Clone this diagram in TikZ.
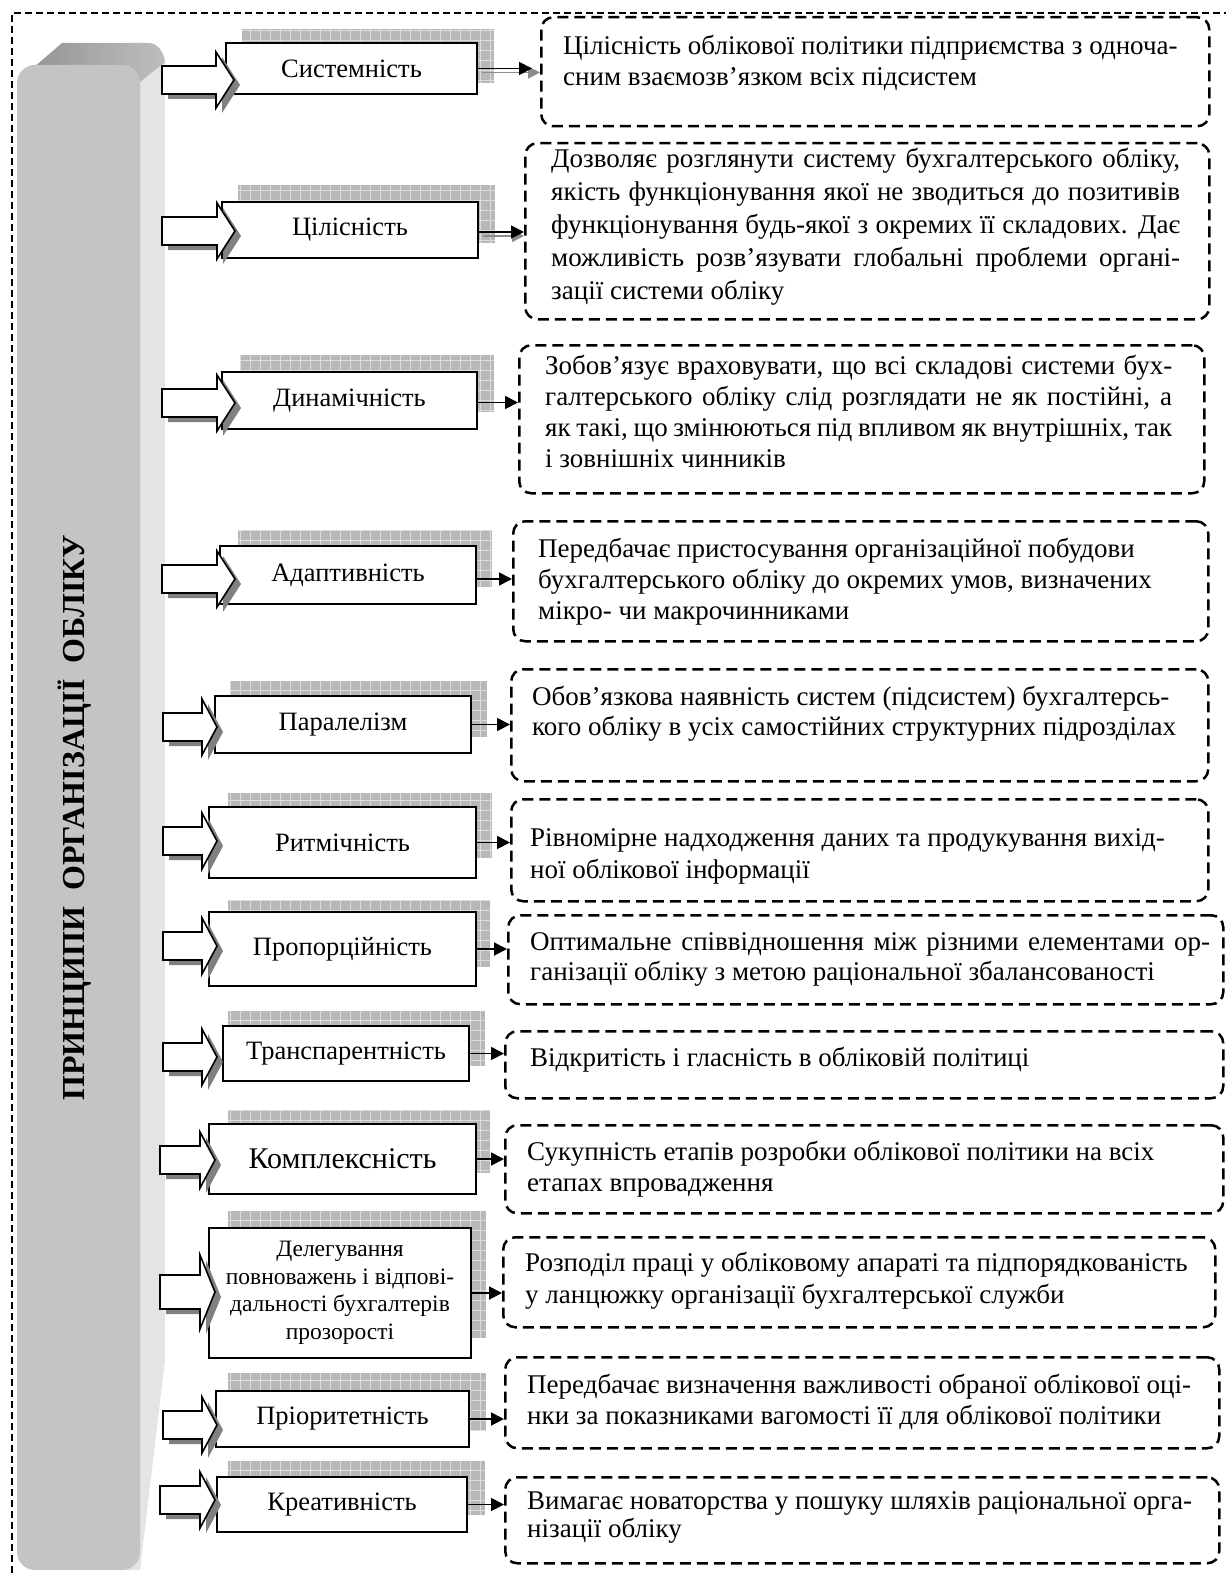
\documentclass[tikz,border=0pt]{standalone}
\usepackage{fontspec}
\setmainfont{Liberation Serif}
\usetikzlibrary{arrows.meta}
\definecolor{frontgray}{RGB}{196,196,196}
\definecolor{sidegray}{RGB}{228,228,228}
\definecolor{topdark}{RGB}{145,145,145}
\definecolor{toplight}{RGB}{190,190,190}
\tikzset{
 pbox/.style={draw=black, line width=1.6pt, fill=white, inner sep=2pt, align=center, font=\fontsize{26.5}{30}\selectfont},
 rbox/.style={draw=black, line width=2.5pt, dash pattern=on 11pt off 6pt, rounded corners=12pt, inner sep=0pt, anchor=north west},
 rtxt/.style={inner sep=0pt, anchor=north west, align=left},
 conn/.style={line width=1.8pt, -{Triangle[length=13pt,width=13pt]}},
 connsh/.style={line width=1.6pt, draw=black!45, -{Triangle[length=12pt,width=12pt,fill=black!45]}},
 blkline/.style={fill=white, draw=black, line width=1.6pt},
 blksh/.style={fill=black!50},
 grd/.style={fill=black!28},
 grdline/.style={draw=black!14, line width=0.8pt},
 outerframe/.style={line width=1.3pt, dash pattern=on 7pt off 4pt},
}
\newcommand\patbox[4]{\begin{scope}\clip (#1,#2) rectangle (#3,#4);
 \fill[grd] (#1,#2) rectangle (#3,#4);
 \draw[grdline, step=10pt] (#1,#2) grid (#3,#4);\end{scope}}
% block arrow: tail x, head base x, tip x, y centre, half body, half head
\newcommand\blkarrow[6]{%
 \fill[blksh, shift={(6,5)}] (#1,{#4-#5}) -- (#2,{#4-#5}) -- (#2,{#4-#6}) -- (#3,#4) -- (#2,{#4+#6}) -- (#2,{#4+#5}) -- (#1,{#4+#5}) -- cycle;
 \draw[blkline] (#1,{#4-#5}) -- (#2,{#4-#5}) -- (#2,{#4-#6}) -- (#3,#4) -- (#2,{#4+#6}) -- (#2,{#4+#5}) -- (#1,{#4+#5}) -- cycle;}
% principle box: [extra style], name, x1, y1, x2, y2, text
\newcommand\pb[7][]{\node[pbox, #1, minimum width={#5pt-#3pt}, minimum height={#6pt-#4pt}] (#2) at ({(#3+#5)/2},{(#4+#6)/2}) {#7};}
% right box: name, x1, y1, x2, y2
\newcommand\rb[5]{\node[rbox, minimum width={#4pt-#2pt}, minimum height={#5pt-#3pt}] (#1) at (#2,#3) {};}
% right text: name, x, baseline, skip, text
\newcommand\rt[5]{\node[rtxt, font=\fontsize{27}{#4}\selectfont] (#1) at (#2,{#3-24}) {\rule{0pt}{24pt}#5};}
\begin{document}
\begin{tikzpicture}[x=1pt,y=-1pt]
\useasboundingbox (0,0) rectangle (1226,1573);
% outer dashed frame
\draw[outerframe] (12,1573) -- (12,13) -- (1226,13);
% grey 3D bar
\fill[sidegray] (120,64) -- (148,43) to[out=0,in=90] (165,62) -- (165,1360) -- (140,1570) -- (120,1570) -- cycle;
\shade[left color=topdark, right color=toplight] (19,80) -- (62,43) -- (148,43) to[out=0,in=100] (165,62) -- (140,82) to[out=100,in=0] (122,65) -- (36,65) to[out=180,in=70] (19,80) -- cycle;
\fill[frontgray, rounded corners=18pt] (17,65) rectangle (140,1570);
\node[rotate=90, font=\bfseries\fontsize{32}{34}\selectfont] (title) at (75,818) {ПРИНЦИПИ\ \ ОРГАНІЗАЦІЇ\ \ ОБЛІКУ};
% pattern shadows
\patbox{242}{29}{494}{83}
\patbox{238}{185}{495}{243}
\patbox{240}{355}{494}{412}
\patbox{238}{530}{492}{587}
\patbox{230}{681}{487}{737}
\patbox{228}{793}{492}{858}
\patbox{228}{900}{490}{967}
\patbox{228}{1011}{485}{1066}
\patbox{228}{1110}{490}{1173}
\patbox{228}{1211}{486}{1338}
\patbox{228}{1373}{486}{1430}
\patbox{228}{1461}{485}{1515}
% principle boxes
\pb{p1}{226}{43}{477}{94}{Системність}
\pb{p2}{222}{202}{478}{258}{Цілісність}
\pb{p3}{222}{372}{477}{429}{Динамічність}
\pb{p4}{220}{546}{476}{604}{Адаптивність}
\pb{p5}{215}{696}{471}{753}{Паралелізм}
\pb{p6}{209}{807}{476}{878}{Ритмічність}
\pb{p7}{209}{912}{476}{986}{Пропорційність}
\pb{p8}{223}{1026}{469}{1081}{Транспарентність}
\pb[font=\fontsize{30}{32}\selectfont]{p9}{209}{1124}{476}{1194}{Комплексність}
\pb[font=\fontsize{23.5}{27.5}\selectfont]{p10}{209}{1228}{471}{1358}{Делегування\\повноважень і відпові-\\дальності бухгалтерів\\прозорості}
\pb{p11}{216}{1391}{469}{1447}{Пріоритетність}
\pb{p12}{217}{1477}{467}{1532}{Креативність}
% block arrows
\blkarrow{162}{216}{234}{80}{14}{28}
\blkarrow{162}{217}{235}{231}{14}{28}
\blkarrow{162}{217}{235}{403}{14}{28}
\blkarrow{162}{217}{235}{579}{14}{28}
\blkarrow{163}{202}{217}{727}{14}{28}
\blkarrow{163}{202}{217}{841}{14}{28}
\blkarrow{163}{202}{217}{946}{14}{28}
\blkarrow{163}{202}{217}{1057}{14}{28}
\blkarrow{160}{200}{215}{1160}{14}{28}
\blkarrow{160}{200}{215}{1292}{17}{37}
\blkarrow{163}{202}{217}{1425}{14}{28}
\blkarrow{160}{200}{215}{1500}{14}{28}
% right boxes
\rb{r1}{540}{16}{1208}{125}
\rb{r2}{524}{142}{1208}{318}
\rb{r3}{518}{344}{1203}{492}
\rb{r4}{512}{520}{1207}{640}
\rb{r5}{510}{668}{1207}{780}
\rb{r6}{510}{798}{1207}{900}
\rb{r7}{507}{914}{1222}{1003}
\rb{r8}{504}{1030}{1222}{1097}
\rb{r9}{504}{1124}{1222}{1212}
\rb{r10}{502}{1236}{1214}{1326}
\rb{r11}{504}{1356}{1218}{1447}
\rb{r12}{504}{1476}{1218}{1562}
% connectors
\draw[connsh] ([xshift=4pt,yshift=-4pt]p1.east) -- ([yshift=-4pt]p1.east -| r1.west);
\draw[conn] (p1.east) -- ([xshift=-8pt]p1.east -| r1.west);
\draw[connsh] ([xshift=4pt,yshift=-6pt]p2.east) -- ([yshift=-6pt]p2.east -| r2.west);
\draw[conn] ([yshift=-2pt]p2.east) -- ([yshift=-2pt]p2.east -| r2.west);
\draw[conn] ([yshift=-2pt]p3.east) -- ([yshift=-2pt]p3.east -| r3.west);
\draw[conn] ([yshift=-4pt]p4.east) -- ([yshift=-4pt]p4.east -| r4.west);
\draw[conn] (p5.east) -- (p5.east -| r5.west);
\draw[conn] (p6.east) -- (p6.east -| r6.west);
\draw[conn] (p7.east) -- (p7.east -| r7.west);
\draw[conn] (p8.east) -- (p8.east -| r8.west);
\draw[conn] (p9.east) -- (p9.east -| r9.west);
\draw[conn] (p10.east) -- (p10.east -| r10.west);
\draw[conn] (p11.east) -- (p11.east -| r11.west);
\draw[conn] (p12.east) -- (p12.east -| r12.west);
% texts
\rt{t1}{563}{54}{31}{Цілісність облікової політики підприємства з одноча-\\сним взаємозв’язком всіх підсистем}
\rt{t2}{551}{167}{33}{\makebox[629pt][s]{Дозволяє розглянути систему бухгалтерського обліку,}\\\makebox[629pt][s]{якість функціонування якої не зводиться до позитивів}\\\makebox[629pt][s]{функціонування будь-якої з окремих її складових. Дає}\\\makebox[629pt][s]{можливість розв’язувати глобальні проблеми органі-}\\зації системи обліку}
\rt{t3}{545}{374}{31}{\makebox[627pt][s]{Зобов’язує враховувати, що всі складові системи бух-}\\\makebox[627pt][s]{галтерського обліку слід розглядати не як постійні, а}\\\makebox[627pt][s]{як такі, що змінюються під впливом як внутрішніх, так}\\і зовнішніх чинників}
\rt{t4}{538}{557}{31}{Передбачає пристосування організаційної побудови\\бухгалтерського обліку до окремих умов, визначених\\мікро- чи макрочинниками}
\rt{t5}{532}{705}{30}{Обов’язкова наявність систем (підсистем) бухгалтерсь-\\кого обліку в усіх самостійних структурних підрозділах}
\rt{t6}{530}{846}{32}{Рівномірне надходження даних та продукування вихід-\\ної облікової інформації}
\rt{t7}{530}{950}{30}{\makebox[680pt][s]{Оптимальне співвідношення між різними елементами ор-}\\ганізації обліку з метою раціональної збалансованості}
\rt{t8}{530}{1066}{31}{Відкритість і гласність в обліковій політиці}
\rt{t9}{527}{1160}{31}{Сукупність етапів розробки облікової політики на всіх\\етапах впровадження}
\rt{t10}{525}{1271}{32}{Розподіл праці у обліковому апараті та підпорядкованість\\у ланцюжку організації бухгалтерської служби}
\rt{t11}{527}{1393}{31}{Передбачає визначення важливості обраної облікової оці-\\нки за показниками вагомості її для облікової політики}
\rt{t12}{527}{1509}{28}{Вимагає новаторства у пошуку шляхів раціональної орга-\\нізації обліку}
\end{tikzpicture}
\end{document}
